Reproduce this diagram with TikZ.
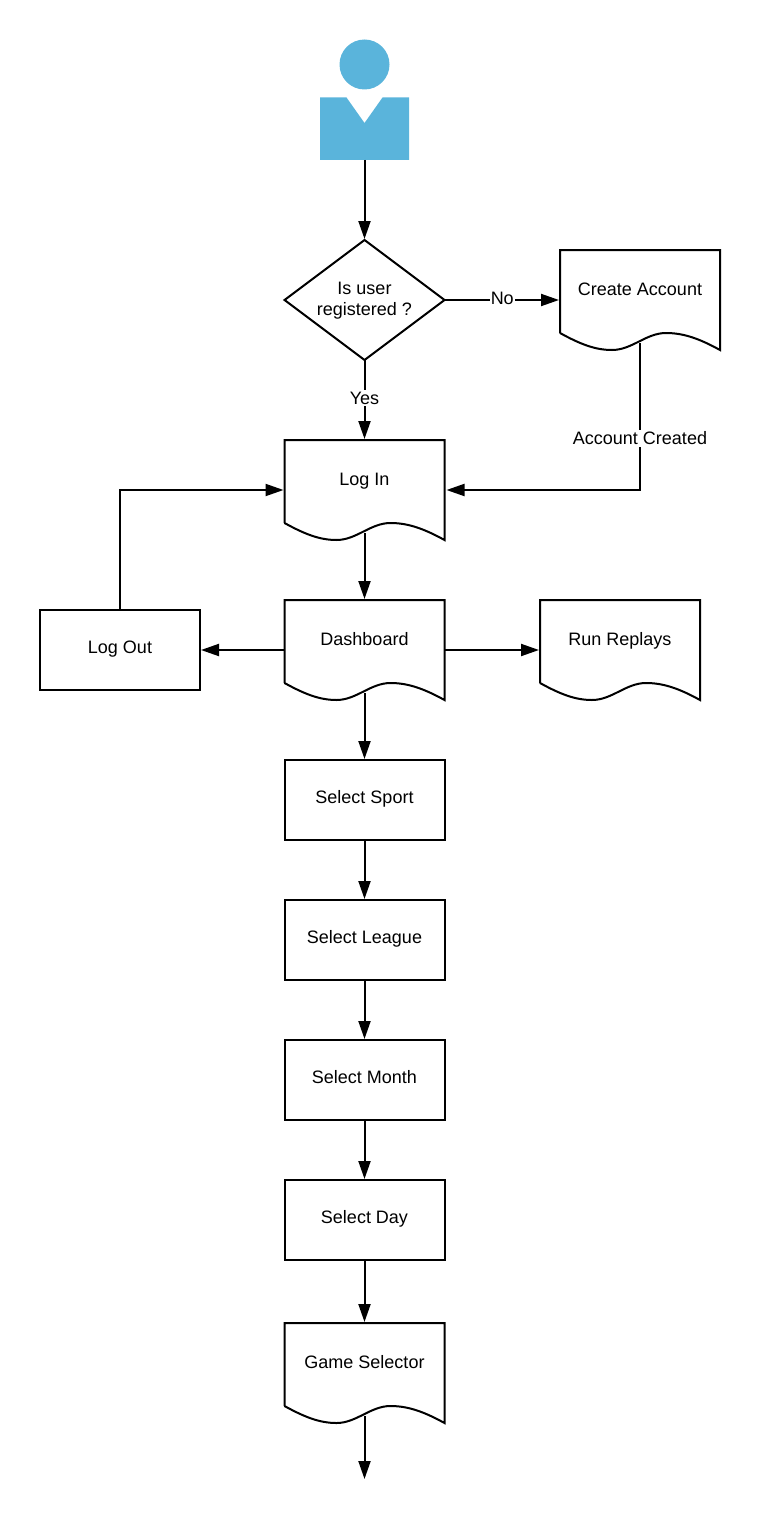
\documentclass[tikz,border=0pt]{standalone}
\usepackage{fontspec}
\setmainfont{Liberation Sans}
\usetikzlibrary{shapes.geometric,arrows.meta,calc}
\definecolor{userblue}{HTML}{5AB4DB}
\tikzset{
  x=1pt,y=-1pt,
  every node/.style={font=\fontsize{18}{21}\selectfont,inner sep=0pt,outer sep=0pt},
  docbox/.style={minimum width=160pt,text height=45pt,text depth=55pt,align=center},
  procbox/.style={draw,line width=2pt,minimum width=160pt,text height=43pt,text depth=37pt},
  decision/.style={draw,line width=2pt,diamond,aspect=1.3333,minimum width=160pt,minimum height=120pt},
  decisiontext/.style={align=center},
  conn/.style={line width=2pt,-{Triangle[length=18pt,width=12pt]},shorten >=1pt},
  edgelabel/.style={fill=white,inner xsep=1pt,inner ysep=2pt},
  docline/.style={line width=2pt,line join=miter}
}
\newcommand{\docoutline}[1]{%
  \draw[docline,shift={(#1.north west)}]
    (0,83) -- (0,0) -- (160,0) -- (160,100)
    .. controls (140,89) and (124,83) .. (106,83)
    .. controls (86,83) and (72,100) .. (52,100)
    .. controls (35,100) and (20,94) .. (0,83);
  \coordinate (#1-out) at ($(#1.south)+(0,-7)$);
}
\begin{document}
\begin{tikzpicture}
\useasboundingbox (0,0) rectangle (760,1517);
% user figure
\fill[userblue] (364.5,64.5) circle[radius=25];
\fill[userblue] (320,97.5) -- (346.5,97.5) -- (364.5,123) -- (382.5,97.5) -- (409,97.5) -- (409,160) -- (320,160) -- cycle;
\coordinate (user) at (364.5,160);
% nodes
\node[decision] (reg) at (364.5,300) {};
\node[decisiontext] (regtext) at (364.5,301) {Is user\\registered ?};
\node[docbox] (create) at (640,300) {Create Account};
\node[docbox] (login) at (364.5,490) {Log In};
\node[docbox] (dash) at (364.5,650) {Dashboard};
\node[docbox] (replay) at (620,650) {Run Replays};
\node[procbox] (logout) at (120,650) {Log Out};
\node[procbox] (sport) at (364.5,800) {Select Sport};
\node[procbox] (league) at (364.5,940) {Select League};
\node[procbox] (month) at (364.5,1080) {Select Month};
\node[procbox] (day) at (364.5,1220) {Select Day};
\node[docbox] (game) at (364.5,1373) {Game Selector};
\docoutline{create}
\docoutline{login}
\docoutline{dash}
\docoutline{replay}
\docoutline{game}
\coordinate (gameend) at (364.5,1480);
% connectors
\draw[conn] (user) -- (reg.north);
\draw[conn] (reg.east) -- node[edgelabel,pos=0.5,yshift=1.5pt] {No} (create.west);
\draw[conn] (reg.south) -- node[edgelabel,pos=0.475] {Yes} (login.north);
\draw[conn] (create-out) -- node[edgelabel,pos=0.647] {Account Created} (create-out |- login.east) -- ([xshift=1pt]login.east);
\draw[conn] (login-out) -- (dash.north);
\draw[conn] (dash.west) -- (logout.east);
\draw[conn] (dash.east) -- (replay.west);
\draw[conn] (logout.north) |- (login.west);
\draw[conn] (dash-out) -- (sport.north);
\draw[conn] (sport.south) -- (league.north);
\draw[conn] (league.south) -- (month.north);
\draw[conn] (month.south) -- (day.north);
\draw[conn] (day.south) -- (game.north);
\draw[conn] (game-out) -- (gameend);
\end{tikzpicture}
\end{document}
